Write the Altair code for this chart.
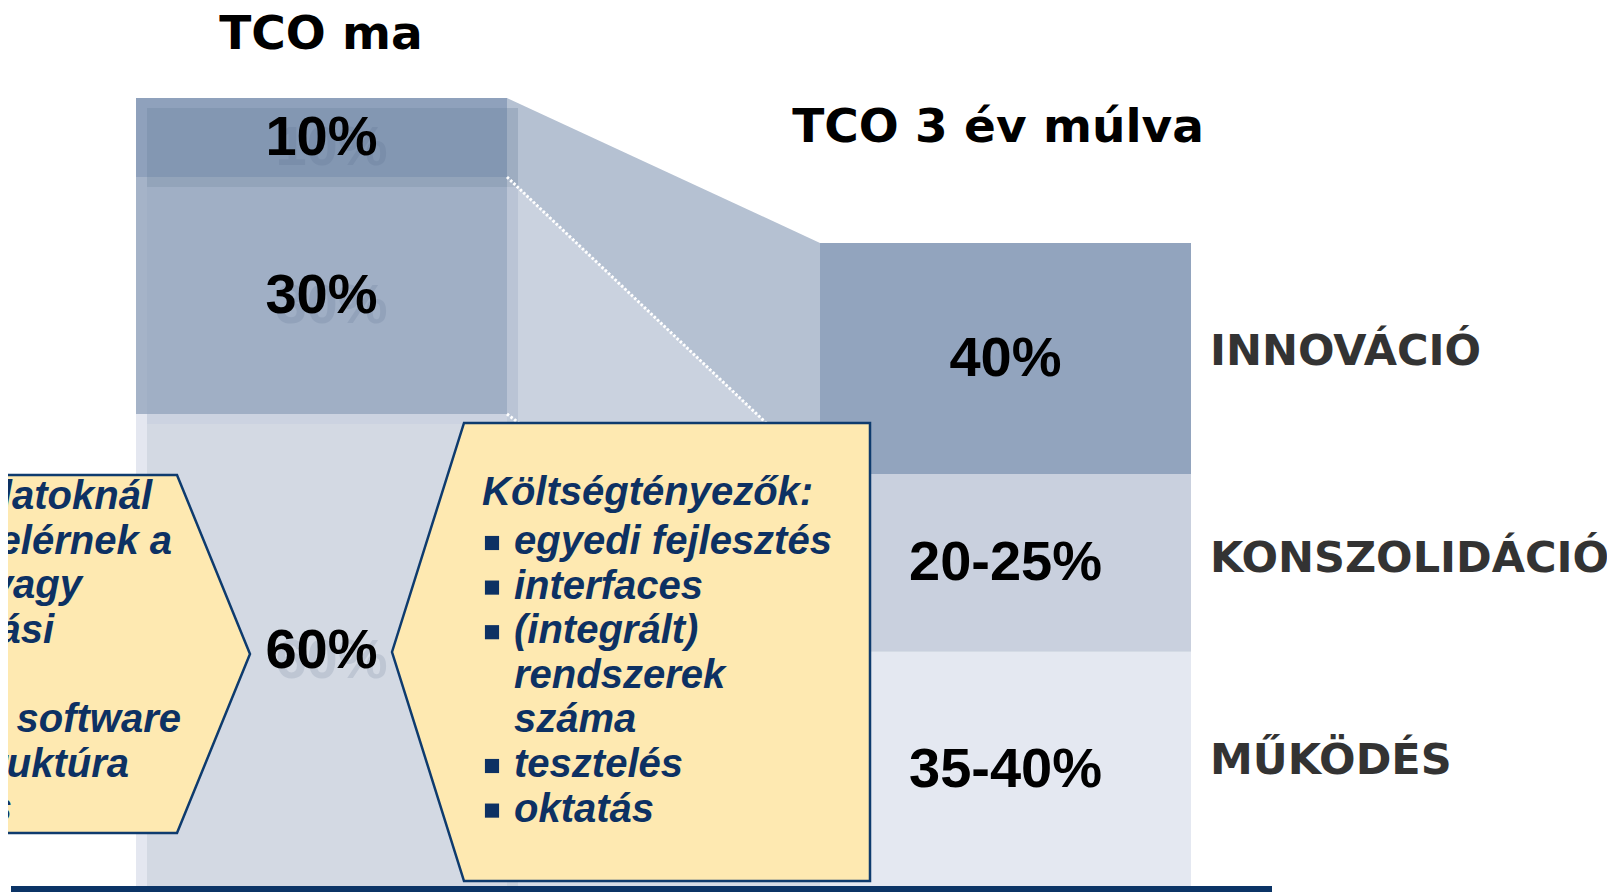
import altair as alt
import pandas as pd

# ---------------- data ----------------
segments = ["MŰKÖDÉS", "KONSZOLIDÁCIÓ", "INNOVÁCIÓ"]          # bottom -> top
today_values = [60, 30, 10]                                    # % of today's TCO
today_labels = ["60%", "30%", "10%"]
future_values = [29.9, 22.5, 29.25]                            # in units of today's TCO
future_labels = ["35-40%", "20-25%", "40%"]
bar_titles = ["TCO ma", "TCO 3 év múlva"]

cost_title = "Költségtényezők:"
cost_items = ["egyedi fejlesztés", "interfaces", "(integrált)", "rendszerek", "száma", "tesztelés", "oktatás"]
cost_bullets = [True, True, True, False, False, True, True]
left_note_lines = ["latoknál", "elérnek a", "vagy", "ási", "", ", software", "ruktúra", "s"]

# ---------------- layout / style ----------------
W, H = 1599, 884
Y0, PPU = 888, 7.9                   # page y of value 0, pixels per unit


def yv(p):
    return (Y0 - p) / PPU


LEFT_X = (136, 507)
RIGHT_X = (820, 1191)
TODAY_FILL = {"INNOVÁCIÓ": "#8fa1bc", "KONSZOLIDÁCIÓ": "#a5b3c8", "MŰKÖDÉS": "#e4e7f0"}
TODAY_SHADOW = {"INNOVÁCIÓ": "#6a809b", "KONSZOLIDÁCIÓ": "#94a6c1", "MŰKÖDÉS": "#abb8c8"}
FUTURE_FILL = {"INNOVÁCIÓ": "#92a4be", "KONSZOLIDÁCIÓ": "#c9d0de", "MŰKÖDÉS": "#e4e8f1"}
FUNNEL_FILL = {"INNOVÁCIÓ": "#b5c1d2", "KONSZOLIDÁCIÓ": "#cad2df", "MŰKÖDÉS": "#d5dce6"}
LABEL_DY = {"INNOVÁCIÓ": -7, "KONSZOLIDÁCIÓ": -4, "MŰKÖDÉS": -9}
YELLOW, NAVY, TEXT_NAVY = "#fee9b1", "#0e3b6e", "#0d3163"
PCT_FONT = "Liberation Sans"
HEAD_FONT = "DejaVu Sans"
BOX_FONT = "Liberation Sans"

xs = alt.Scale(domain=[8, 8 + W], nice=False, zero=False)
ys = alt.Scale(domain=[yv(8 + H), yv(8)], nice=False, zero=False)


def stack(values):
    lo, out = 0.0, []
    for v in values:
        out.append((lo, lo + v))
        lo += v
    return out


today = stack(today_values)
future = stack(future_values)

bars = []
for seg, (lo, hi), lab in zip(segments, today, today_labels):
    bars.append(dict(bar="today", seg=seg, x=LEFT_X[0], x2=LEFT_X[1], lo=lo, hi=hi,
                     mid=(lo + hi) / 2, label=lab, fill=TODAY_FILL[seg],
                     shade=TODAY_SHADOW[seg], xc=sum(LEFT_X) / 2))
for seg, (lo, hi), lab in zip(segments, future, future_labels):
    bars.append(dict(bar="future", seg=seg, x=RIGHT_X[0], x2=RIGHT_X[1], lo=lo, hi=hi,
                     mid=(lo + hi) / 2, label=lab, fill=FUTURE_FILL[seg],
                     shade=FUTURE_FILL[seg], xc=sum(RIGHT_X) / 2))
bars_df = pd.DataFrame(bars)
today_df = bars_df[bars_df.bar == "today"]
future_df = bars_df[bars_df.bar == "future"]

funnel = []
for seg, (llo, lhi), (rlo, rhi) in zip(segments, today, future):
    funnel.append(dict(seg=seg, x=LEFT_X[1], lo=llo, hi=lhi, fill=FUNNEL_FILL[seg]))
    funnel.append(dict(seg=seg, x=RIGHT_X[0], lo=rlo, hi=rhi, fill=FUNNEL_FILL[seg]))
funnel_df = pd.DataFrame(funnel)

dots = []
for i in (1, 2):
    dots.append(dict(b=i, x=LEFT_X[1], y=today[i][0]))
    dots.append(dict(b=i, x=RIGHT_X[0], y=future[i][0]))
dots_df = pd.DataFrame(dots)

cat_df = pd.DataFrame([dict(seg=r["seg"], y=r["mid"] + (-LABEL_DY[r["seg"]]) / PPU, x=1210)
                       for _, r in future_df.iterrows()])

titles_df = pd.DataFrame(dict(t=bar_titles, x=[321, 998], y=[yv(35), yv(128)]))

# yellow callouts
box_df = pd.DataFrame([
    dict(box="R", x=392, top=yv(652), bot=yv(652)),
    dict(box="R", x=464, top=yv(423), bot=yv(881)),
    dict(box="R", x=870, top=yv(423), bot=yv(881)),
    dict(box="L", x=-60, top=yv(475), bot=yv(833)),
    dict(box="L", x=177, top=yv(475), bot=yv(833)),
    dict(box="L", x=250, top=yv(654), bot=yv(654)),
])

r_lines = [dict(t=cost_title, x=482, y=yv(493))]
bullets = []
for i, (item, b) in enumerate(zip(cost_items, cost_bullets)):
    py = 542 + 44.6 * i
    r_lines.append(dict(t=item, x=514, y=yv(py)))
    if b:
        bullets.append(dict(x=492, y=yv(py + 1)))
r_lines_df = pd.DataFrame(r_lines)
bullets_df = pd.DataFrame(bullets)

l_ends = [152, 172, 82, 54, 0, 181, 129, 12]
l_lines_df = pd.DataFrame([dict(t=t, x=e, y=yv(497 + 44.6 * i))
                           for i, (t, e) in enumerate(zip(left_note_lines, l_ends)) if t])

base_line_df = pd.DataFrame([dict(x=11, x2=1272, y=yv(886), y2=yv(894))])

X = lambda f: alt.X(f, scale=xs, axis=None)
Y = lambda f: alt.Y(f, scale=ys, axis=None)

funnel_layer = alt.Chart(funnel_df).mark_area(interpolate="linear").encode(
    x=X("x:Q"), y=Y("lo:Q"), y2="hi:Q",
    fill=alt.Fill("fill:N", scale=None), detail="seg:N")

today_rects = alt.Chart(today_df).mark_rect().encode(
    x=X("x:Q"), x2="x2:Q", y=Y("lo:Q"), y2="hi:Q", fill=alt.Fill("fill:N", scale=None))
today_shadow = alt.Chart(today_df).mark_rect(
    opacity=0.3, xOffset=11, x2Offset=11, yOffset=10, y2Offset=10).encode(
    x=X("x:Q"), x2="x2:Q", y=Y("lo:Q"), y2="hi:Q", fill=alt.Fill("shade:N", scale=None))
future_rects = alt.Chart(future_df).mark_rect().encode(
    x=X("x:Q"), x2="x2:Q", y=Y("lo:Q"), y2="hi:Q", fill=alt.Fill("fill:N", scale=None))

dots_layer = alt.Chart(dots_df).mark_line(
    color="white", strokeDash=[2.5, 2], strokeWidth=3).encode(
    x=X("x:Q"), y=Y("y:Q"), detail="b:N")

ghost = alt.Chart(today_df).mark_text(
    font=PCT_FONT, fontSize=56, fontWeight="bold", color="#4a5f80", opacity=0.15,
    dx=10, dy=10).encode(x=X("xc:Q"), y=Y("mid:Q"), text="label:N")
pct = alt.Chart(bars_df).mark_text(
    font=PCT_FONT, fontSize=56, fontWeight="bold", color="#000000").encode(
    x=X("xc:Q"), y=Y("mid:Q"), text="label:N")

boxes = alt.Chart(box_df).mark_area(
    interpolate="linear", fill=YELLOW, stroke=NAVY, strokeWidth=2.5, opacity=1).encode(
    x=X("x:Q"), y=Y("top:Q"), y2="bot:Q", detail="box:N")

r_text = alt.Chart(r_lines_df).mark_text(
    font=BOX_FONT, fontSize=40, fontWeight="bold", fontStyle="italic",
    color=TEXT_NAVY, align="left").encode(x=X("x:Q"), y=Y("y:Q"), text="t:N")
bullet_layer = alt.Chart(bullets_df).mark_square(
    size=200, color=TEXT_NAVY, opacity=1).encode(x=X("x:Q"), y=Y("y:Q"))
l_text = alt.Chart(l_lines_df).mark_text(
    font=BOX_FONT, fontSize=40, fontWeight="bold", fontStyle="italic",
    color=TEXT_NAVY, align="right").encode(x=X("x:Q"), y=Y("y:Q"), text="t:N")

cats = alt.Chart(cat_df).mark_text(
    font=HEAD_FONT, fontSize=43, fontWeight="bold", color="#333333", align="left").encode(
    x=X("x:Q"), y=Y("y:Q"), text="seg:N")
titles = alt.Chart(titles_df).mark_text(
    font=HEAD_FONT, fontSize=47, fontWeight="bold", color="#000000").encode(
    x=X("x:Q"), y=Y("y:Q"), text="t:N")

base_line = alt.Chart(base_line_df).mark_rect(color="#0b3466").encode(
    x=X("x:Q"), x2="x2:Q", y=Y("y:Q"), y2="y2:Q")

chart = alt.layer(
    funnel_layer, today_rects, today_shadow, future_rects, dots_layer,
    ghost, pct, boxes, r_text, bullet_layer, l_text, cats, titles, base_line
).properties(
    width=W, height=H, padding=0, autosize=alt.AutoSizeParams(type="none")
).configure_view(stroke=None)

chart.save("out.html", embed_options={"renderer": "svg", "actions": False})
